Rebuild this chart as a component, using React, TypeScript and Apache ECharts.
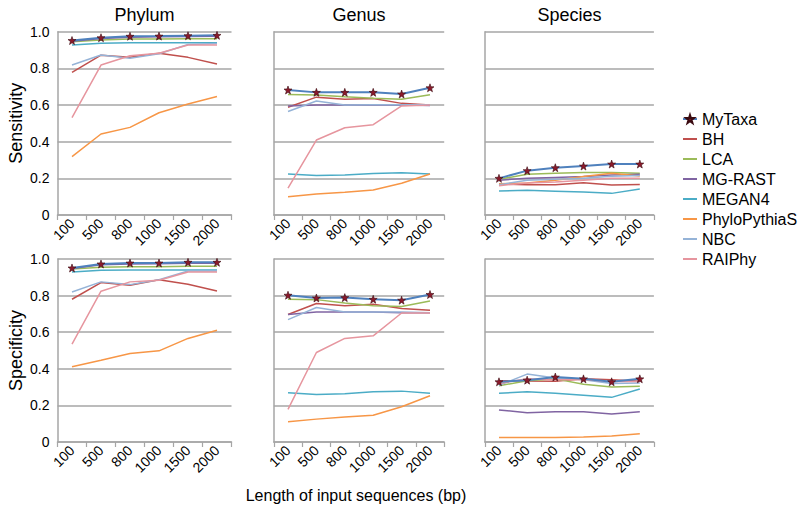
import React, { useEffect, useRef } from 'react';
import * as echarts from 'echarts';

const categories = ['100', '500', '800', '1000', '1500', '2000'];
const methods = ['MyTaxa', 'BH', 'LCA', 'MG-RAST', 'MEGAN4', 'PhyloPythiaS', 'NBC', 'RAIPhy'];
const panelTitles = ['Phylum', 'Genus', 'Species'];
const rowTitles = ['Sensitivity', 'Specificity'];
const xAxisTitle = 'Length of input sequences (bp)';

const sensitivityPhylum: Record<string, number[]> = {
  MyTaxa: [0.952, 0.967, 0.975, 0.976, 0.978, 0.98],
  BH: [0.778, 0.872, 0.86, 0.882, 0.86, 0.824],
  LCA: [0.945, 0.955, 0.96, 0.96, 0.962, 0.962],
  'MG-RAST': [0.948, 0.963, 0.97, 0.972, 0.974, 0.975],
  MEGAN4: [0.927, 0.937, 0.94, 0.94, 0.94, 0.94],
  PhyloPythiaS: [0.318, 0.442, 0.478, 0.558, 0.606, 0.646],
  NBC: [0.818, 0.873, 0.855, 0.88, 0.93, 0.935],
  RAIPhy: [0.531, 0.818, 0.869, 0.882, 0.927, 0.927],
};
const sensitivityGenus: Record<string, number[]> = {
  MyTaxa: [0.682, 0.669, 0.669, 0.669, 0.66, 0.694],
  BH: [0.588, 0.643, 0.631, 0.635, 0.609, 0.6],
  LCA: [0.658, 0.655, 0.645, 0.637, 0.631, 0.656],
  'MG-RAST': [0.595, 0.6, 0.6, 0.6, 0.6, 0.598],
  MEGAN4: [0.224, 0.215, 0.218, 0.227, 0.231, 0.224],
  PhyloPythiaS: [0.1, 0.115, 0.124, 0.136, 0.173, 0.224],
  NBC: [0.565, 0.622, 0.6, 0.602, 0.602, 0.602],
  RAIPhy: [0.146, 0.409, 0.476, 0.493, 0.595, 0.6],
};
const sensitivitySpecies: Record<string, number[]> = {
  MyTaxa: [0.2, 0.242, 0.258, 0.267, 0.278, 0.278],
  BH: [0.17, 0.165, 0.165, 0.176, 0.164, 0.167],
  LCA: [0.195, 0.222, 0.228, 0.232, 0.232, 0.228],
  'MG-RAST': [0.19, 0.2, 0.205, 0.21, 0.218, 0.222],
  MEGAN4: [0.131, 0.135, 0.13, 0.125, 0.118, 0.142],
  PhyloPythiaS: [0.17, 0.175, 0.19, 0.21, 0.228, 0.213],
  NBC: [0.165, 0.19, 0.195, 0.2, 0.212, 0.215],
  RAIPhy: [0.16, 0.175, 0.18, 0.19, 0.2, 0.2],
};
const specificityPhylum: Record<string, number[]> = {
  MyTaxa: [0.951, 0.973, 0.978, 0.978, 0.982, 0.982],
  BH: [0.78, 0.871, 0.857, 0.887, 0.862, 0.825],
  LCA: [0.945, 0.955, 0.958, 0.958, 0.96, 0.96],
  'MG-RAST': [0.948, 0.968, 0.973, 0.974, 0.977, 0.977],
  MEGAN4: [0.929, 0.938, 0.94, 0.94, 0.94, 0.94],
  PhyloPythiaS: [0.411, 0.447, 0.484, 0.498, 0.566, 0.611],
  NBC: [0.82, 0.875, 0.86, 0.887, 0.934, 0.934],
  RAIPhy: [0.535, 0.824, 0.875, 0.884, 0.929, 0.929],
};
const specificityGenus: Record<string, number[]> = {
  MyTaxa: [0.802, 0.787, 0.789, 0.78, 0.775, 0.806],
  BH: [0.697, 0.757, 0.744, 0.753, 0.729, 0.72],
  LCA: [0.78, 0.778, 0.76, 0.745, 0.74, 0.771],
  'MG-RAST': [0.697, 0.71, 0.71, 0.71, 0.706, 0.706],
  MEGAN4: [0.269, 0.26, 0.264, 0.274, 0.278, 0.266],
  PhyloPythiaS: [0.111, 0.125, 0.136, 0.146, 0.193, 0.253],
  NBC: [0.669, 0.735, 0.711, 0.711, 0.71, 0.706],
  RAIPhy: [0.178, 0.489, 0.566, 0.58, 0.705, 0.705],
};
const specificitySpecies: Record<string, number[]> = {
  MyTaxa: [0.329, 0.338, 0.355, 0.345, 0.329, 0.345],
  BH: [0.335, 0.333, 0.332, 0.345, 0.34, 0.332],
  LCA: [0.307, 0.335, 0.345, 0.315, 0.3, 0.305],
  'MG-RAST': [0.175, 0.16, 0.165, 0.165, 0.153, 0.165],
  MEGAN4: [0.266, 0.275, 0.266, 0.256, 0.244, 0.29],
  PhyloPythiaS: [0.025, 0.025, 0.025, 0.028, 0.033, 0.045],
  NBC: [0.31, 0.371, 0.35, 0.34, 0.32, 0.322],
  RAIPhy: [0.32, 0.345, 0.34, 0.342, 0.33, 0.33],
};

const panels = [
  sensitivityPhylum, sensitivityGenus, sensitivitySpecies,
  specificityPhylum, specificityGenus, specificitySpecies,
];

const colors: Record<string, string> = {
  MyTaxa: '#4F81BD',
  BH: '#C0504D',
  LCA: '#9BBB59',
  'MG-RAST': '#8064A2',
  MEGAN4: '#4BACC6',
  PhyloPythiaS: '#F79646',
  NBC: '#95B3D7',
  RAIPhy: '#E6959E',
};

const STAR = 'path://M0,-10L2.35,-3.24L9.51,-3.09L3.8,1.24L5.88,8.09L0,4.2L-5.88,8.09L-3.8,1.24L-9.51,-3.09L-2.35,-3.24Z';
const DASH = 'path://M0,0H0.01V0.01H0Z M0,3.9H14V6.1H0Z M13.99,9.99H14V10H13.99Z';
const FONT = 'Liberation Sans, Arial, sans-serif';
const GRIDC = '#A6A6A6';

const cols = [
  { left: 57.5, width: 174 },
  { left: 273.8, width: 170.4 },
  { left: 484.9, width: 169 },
];
const rows = [
  { top: 31.7, height: 183.3 },
  { top: 259, height: 183 },
];

export default function App() {
  const ref = useRef<HTMLDivElement>(null);
  useEffect(() => {
    if (!ref.current) return;
    const chart = echarts.init(ref.current, undefined, { renderer: 'svg' });
    const grid: any[] = [];
    const xAxis: any[] = [];
    const yAxis: any[] = [];
    const series: any[] = [];
    rows.forEach((r, ri) => {
      cols.forEach((c, ci) => {
        const gi = ri * 3 + ci;
        grid.push({ left: c.left, width: c.width, top: r.top, height: r.height, containLabel: false });
        xAxis.push({
          type: 'category',
          gridIndex: gi,
          data: categories,
          boundaryGap: true,
          axisLine: { show: true, lineStyle: { color: GRIDC, width: 1.5 } },
          axisTick: { show: true, length: 5, lineStyle: { color: GRIDC, width: 1.2 } },
          axisLabel: { rotate: 45, fontSize: 14, color: '#000', fontFamily: FONT, margin: 6, interval: 0 },
          splitLine: { show: false },
        });
        yAxis.push({
          type: 'value',
          gridIndex: gi,
          min: 0,
          max: 1,
          interval: 0.2,
          axisLine: { show: true, lineStyle: { color: GRIDC, width: 1.5 } },
          axisTick: { show: false },
          axisLabel: {
            show: ci === 0,
            fontSize: 14,
            color: '#000',
            fontFamily: FONT,
            margin: 8,
            formatter: (v: number) => (v === 0 ? '0' : v.toFixed(1)),
          },
          splitLine: { show: true, lineStyle: { color: GRIDC, width: 1.5 } },
        });
        const data = panels[gi];
        methods.forEach((m) => {
          const isMy = m === 'MyTaxa';
          series.push({
            type: 'line',
            name: m,
            xAxisIndex: gi,
            yAxisIndex: gi,
            data: data[m],
            symbol: isMy ? STAR : 'none',
            symbolSize: 8,
            showSymbol: isMy,
            z: isMy ? 5 : 2,
            lineStyle: { color: colors[m], width: isMy ? 2 : 1.5 },
            itemStyle: isMy
              ? { color: '#8B1A2B', borderColor: '#3a0a10', borderWidth: 0.6 }
              : { color: colors[m] },
            emphasis: { disabled: true },
          });
        });
      });
    });

    const graphic: any[] = [];
    panelTitles.forEach((t, i) => {
      graphic.push({
        type: 'text',
        x: cols[i].left + cols[i].width / 2,
        y: 6,
        style: { text: t, fontSize: 18, fontFamily: FONT, fill: '#000', textAlign: 'center', textVerticalAlign: 'top' },
      });
    });
    rowTitles.forEach((t, i) => {
      graphic.push({
        type: 'text',
        x: 16,
        y: rows[i].top + rows[i].height / 2,
        rotation: Math.PI / 2,
        style: { text: t, fontSize: 18, fontFamily: FONT, fill: '#000', textAlign: 'center', textVerticalAlign: 'middle' },
      });
    });
    graphic.push({
      type: 'text',
      x: 356,
      y: 495,
      style: { text: xAxisTitle, fontSize: 16, fontFamily: FONT, fill: '#000', textAlign: 'center', textVerticalAlign: 'middle' },
    });

    chart.setOption({
      animation: false,
      backgroundColor: '#fff',
      textStyle: { fontFamily: FONT },
      grid,
      xAxis,
      yAxis,
      series,
      graphic,
      legend: {
        orient: 'vertical',
        left: 677,
        top: 106,
        itemWidth: 14,
        itemHeight: 10,
        itemGap: 4,
        data: methods.map((m) => (m === 'MyTaxa' ? { name: m } : { name: m, icon: DASH })),
        textStyle: { fontSize: 16, color: '#000', fontFamily: FONT },
        selectedMode: false,
      },
    });
    return () => chart.dispose();
  }, []);
  return (
    <div
      ref={ref}
      style={{ position: 'fixed', left: 0, top: 0, width: 800, height: 508, background: '#fff' }}
    />
  );
}
